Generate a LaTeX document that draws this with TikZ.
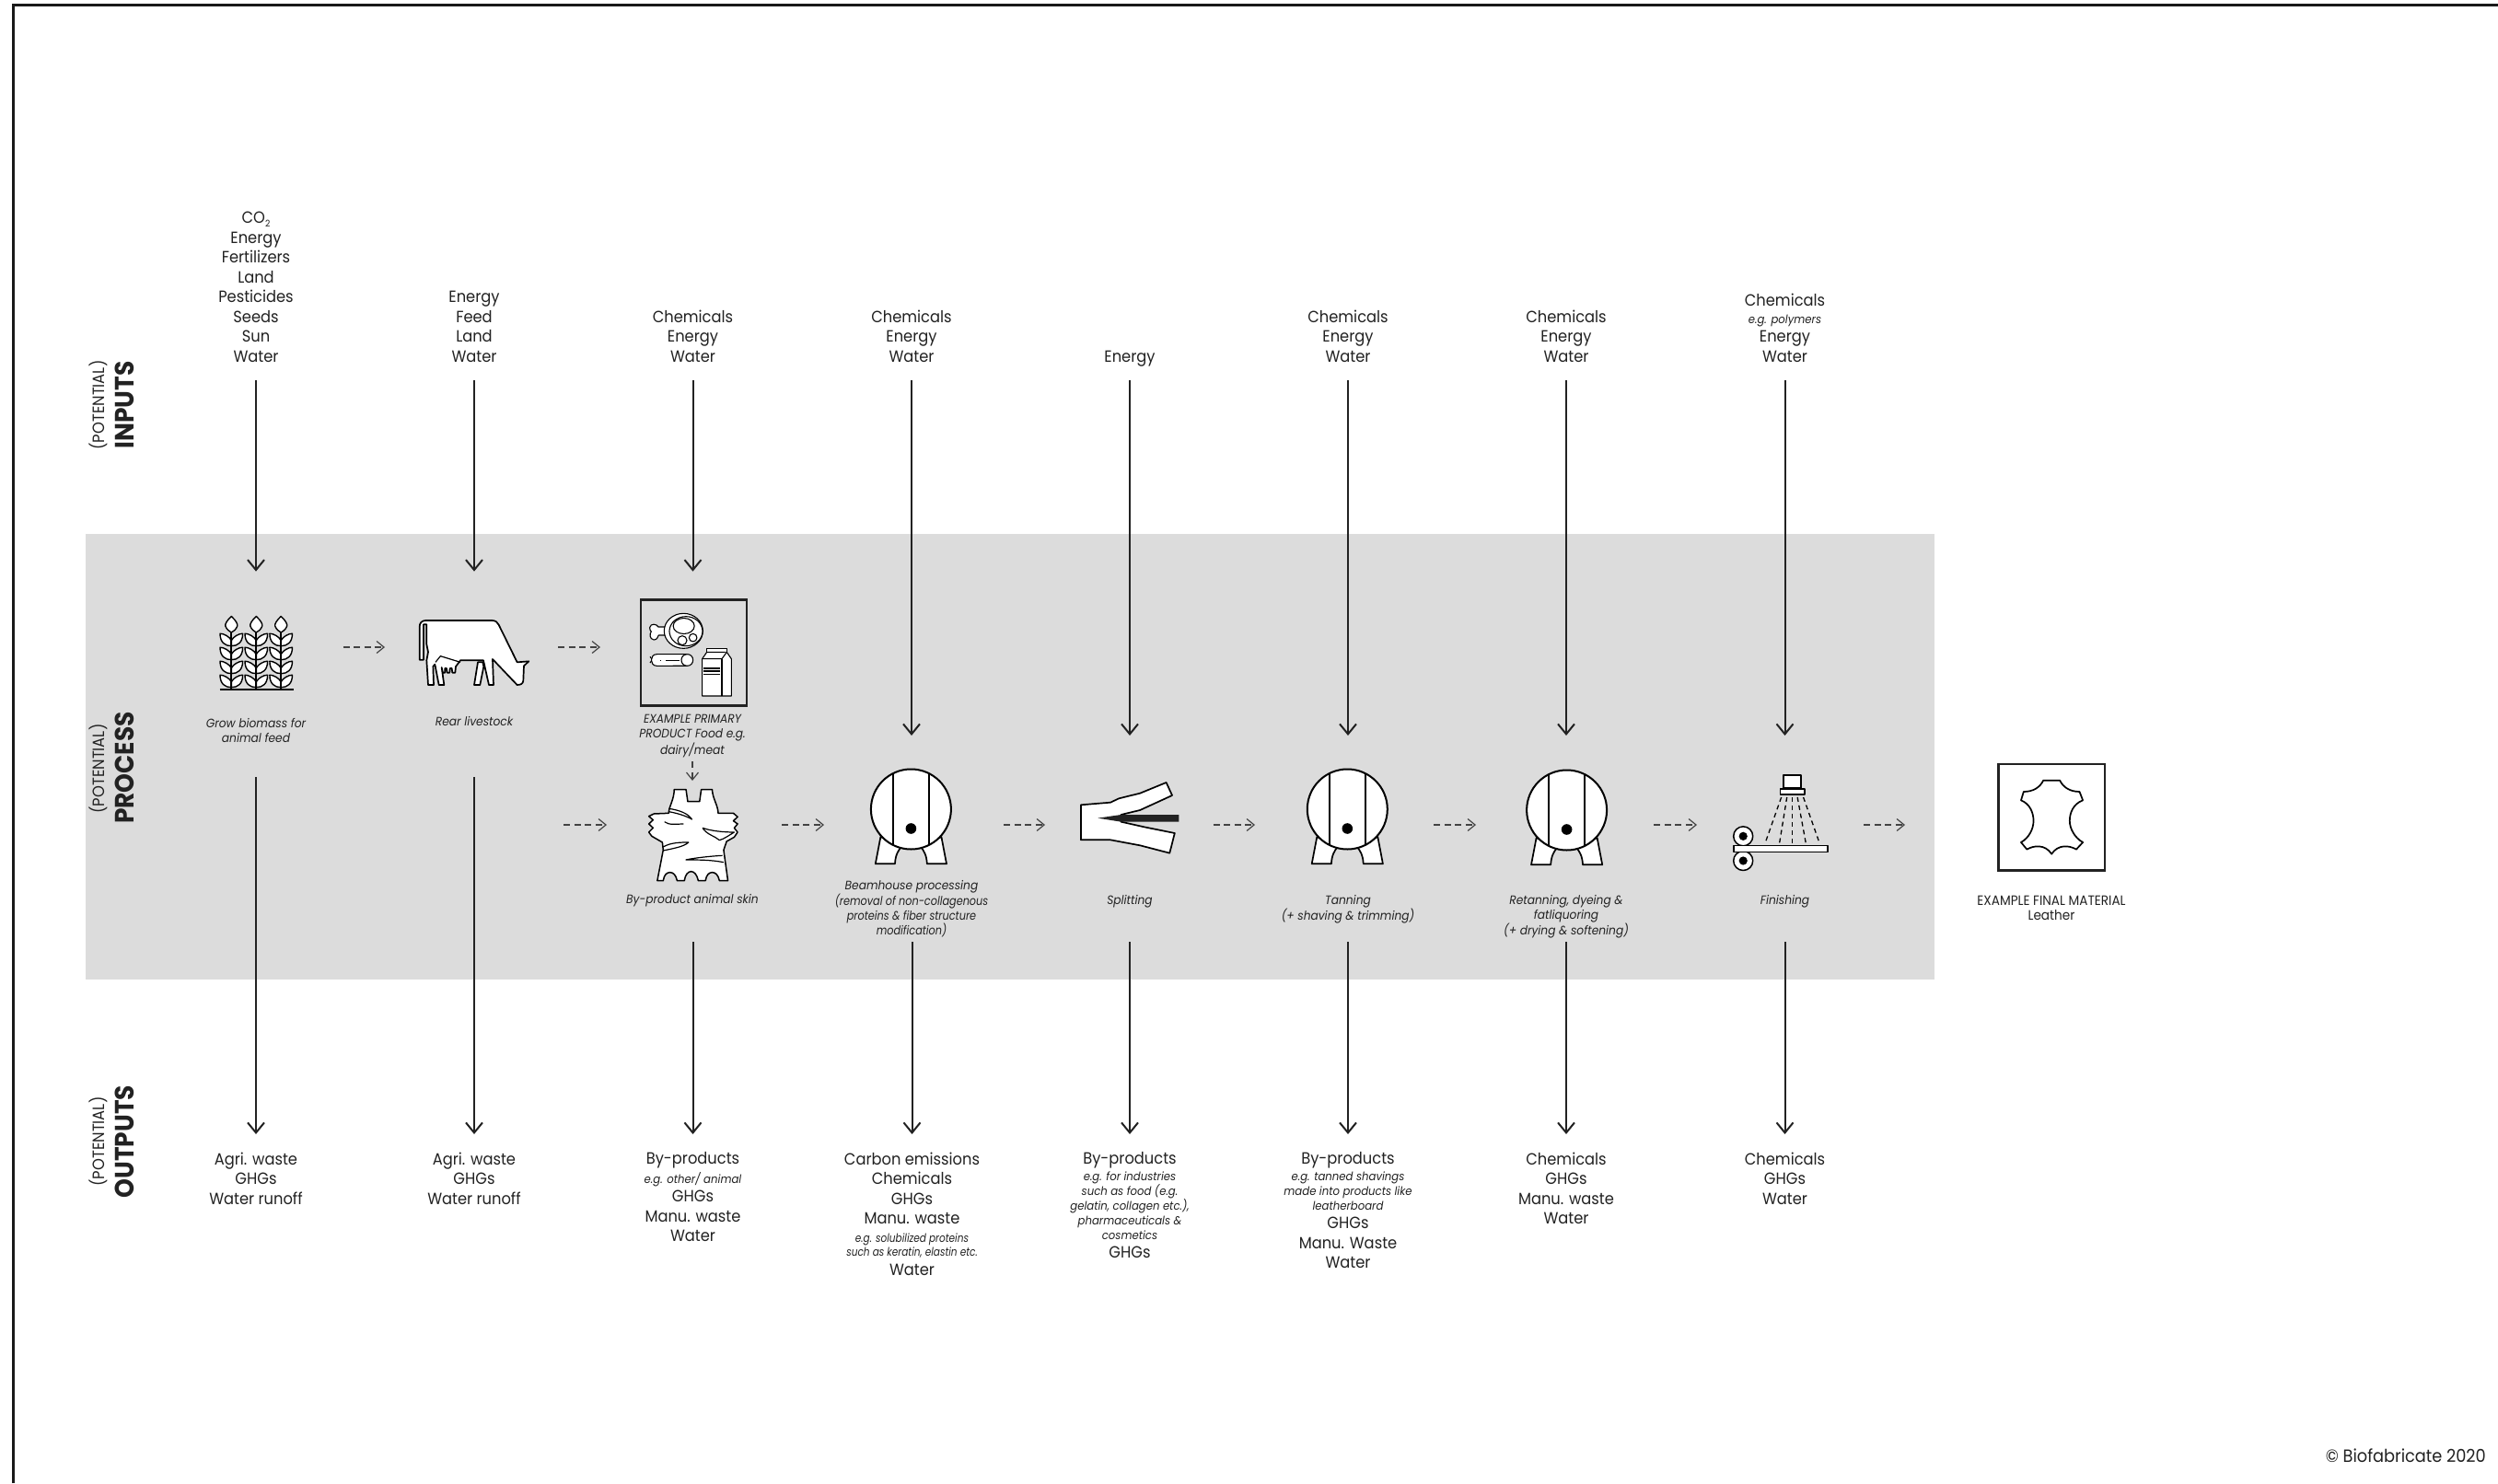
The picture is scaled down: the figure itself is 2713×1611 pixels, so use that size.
\documentclass[tikz,border=0pt]{standalone}
\usepackage{fontspec}
\setmainfont{Poppins}[FakeStretch=0.92]
\usetikzlibrary{arrows.meta}
\definecolor{ink}{HTML}{222222}
\definecolor{band}{HTML}{DCDCDC}
\newcommand\sm[1]{{\fontsize{12.7}{12.7}\selectfont\itshape #1}}
\newcommand\nar[2]{\scalebox{#1}[1]{#2}}
\tikzset{
  flow/.style={line width=2pt,draw=ink,-{Straight Barb[length=11pt,width=18pt,line width=2pt]}},
  dashflow/.style={line width=1.2pt,draw=ink!85,dash pattern=on 7pt off 4.5pt,-{Straight Barb[length=8pt,width=13pt,line width=1.2pt]}},
  inlabel/.style={anchor=south,align=center,inner xsep=0pt,inner ysep=14.5pt,text=ink,
    font=\fontsize{17.7}{21.5}\selectfont,execute at end node={\rule[-5pt]{0pt}{5pt}}},
  outlabel/.style={anchor=north,align=center,inner xsep=0pt,inner ysep=19.5pt,text=ink,
    font=\fontsize{17.7}{21.5}\selectfont,execute at begin node={\rule{0pt}{14pt}}},
  captext/.style={anchor=north,align=center,inner sep=0pt,text=ink,
    font=\fontsize{13.3}{16}\selectfont\itshape,execute at begin node={\rule{0pt}{10pt}}},
  finalcap/.style={captext,font=\fontsize{14.8}{16}\selectfont},
  stepbox/.style={inner sep=0pt,outer sep=0pt,draw=none},
  icon/.style={draw=black,line width=1.7pt,fill=white,line join=round},
  sidehead/.style={rotate=90,inner sep=0pt,text=ink,font=\fontsize{28.8}{29}\selectfont\bfseries},
  sidesub/.style={rotate=90,inner sep=0pt,text=ink,font=\fontsize{17.8}{18}\selectfont},
}
\newcommand\stalk[1]{%
  \begin{scope}[shift={(#1,0)}]
    \draw[icon,line width=1.4pt] (0,669.5) .. controls (-5,674) and (-7,678) .. (-6.5,680) .. controls (-5,684) and (-2,686) .. (0,687) .. controls (2,686) and (5,684) .. (6.5,680) .. controls (7,678) and (5,674) .. (0,669.5) -- cycle;
    \foreach \s in {-1,1}\foreach \k in {0,1,2,3}{
      \pgfmathsetmacro\yb{701.7+\k*15}
      \draw[icon,line width=1.4pt] (0,\yb) .. controls (\s*7,\yb) and (\s*12.3,\yb-4) .. (\s*12.3,\yb-13.5) .. controls (\s*8,\yb-13.5) and (\s*2,\yb-10) .. (0,\yb-6) -- cycle;
    }
    \draw[black,line width=1.7pt] (0,687) -- (0,749);
  \end{scope}}
\newcommand\drumicon[1]{%
  \begin{scope}[shift={#1}]
    \draw[icon] (-33,30) -- (-38.6,59.3) -- (-17.4,59.3) .. controls (-17,50) and (-14,45) .. (-10.6,41) -- cycle;
    \draw[icon] (33,30) -- (38.6,59.3) -- (17.4,59.3) .. controls (17,50) and (14,45) .. (10.6,41) -- cycle;
    \draw[icon,line width=2pt] (0,0) circle [radius=43.5pt];
    \draw[draw=black,line width=2pt] (-19.5,-38.9) -- (-19.5,38.9) (19.5,-38.9) -- (19.5,38.9);
    \fill[black] (0,21) circle [radius=5.8pt];
  \end{scope}}
\begin{document}
\begin{tikzpicture}[x=1pt,y=-1pt]
\useasboundingbox (0,0) rectangle (2713,1611);
\fill[white] (0,0) rectangle (2713,1611);
\fill[band] (93,580) rectangle (2101,1064);
\draw[black!90,line width=2.5pt] (14.5,1611) -- (14.5,5.5) -- (2713,5.5);

% invisible step frames, their sides carry the dashed connectors
\node[stepbox,minimum width=189pt,minimum height=40pt] (wheat) at (278,703) {};
\node[stepbox,minimum width=188pt,minimum height=40pt] (cow) at (512,703) {};
\node[stepbox,minimum width=200pt,minimum height=248pt] (primary) at (752,703) {};
\node[stepbox,minimum width=190pt,minimum height=96pt] (skin) at (754,896) {};
\node[stepbox,minimum width=195pt,minimum height=40pt] (drum1) at (992.5,896) {};
\node[stepbox,minimum width=182.5pt,minimum height=40pt] (split) at (1226.25,896) {};
\node[stepbox,minimum width=194pt,minimum height=40pt] (drum2) at (1460,896) {};
\node[stepbox,minimum width=193pt,minimum height=40pt] (drum3) at (1699.5,896) {};
\node[stepbox,minimum width=181pt,minimum height=40pt] (finish) at (1933.5,896) {};
\node[stepbox,minimum width=100pt,minimum height=40pt] (final) at (2119,896) {};
\coordinate (skinfeed) at (612,896);

\draw[dashflow] (wheat) -- (cow);
\draw[dashflow] (cow) -- (primary);
\draw[dashflow] (primary.south) -- (primary.south |- skin.north);
\draw[dashflow] (skinfeed) -- (skin);
\draw[dashflow] (skin) -- (drum1);
\draw[dashflow] (drum1) -- (split);
\draw[dashflow] (split) -- (drum2);
\draw[dashflow] (drum2) -- (drum3);
\draw[dashflow] (drum3) -- (finish);
\draw[dashflow] (finish) -- (final);

% inputs
\node[inlabel] (i1) at (278,413) {CO\raisebox{-3.5pt}{\fontsize{10}{10}\selectfont 2}\\Energy\\Fertilizers\\Land\\Pesticides\\Seeds\\Sun\\Water};
\node[inlabel] (i2) at (515,413) {Energy\\Feed\\Land\\Water};
\node[inlabel] (i3) at (752.5,413) {Chemicals\\Energy\\Water};
\node[inlabel] (i4) at (990,413) {Chemicals\\Energy\\Water};
\node[inlabel] (i5) at (1227,413) {Energy};
\node[inlabel] (i6) at (1464,413) {Chemicals\\Energy\\Water};
\node[inlabel] (i7) at (1701,413) {Chemicals\\Energy\\Water};
\node[inlabel] (i8) at (1938.5,413) {Chemicals\\[-2.5pt]\sm{e.g. polymers}\\[-1.5pt]Energy\\Water};
\coordinate (ie1) at (278,620.7);
\coordinate (ie2) at (515,620.7);
\coordinate (ie3) at (752.5,620.7);
\coordinate (ie4) at (990,799);
\coordinate (ie5) at (1227,799);
\coordinate (ie6) at (1464,799);
\coordinate (ie7) at (1701,799);
\coordinate (ie8) at (1938.5,799);
\foreach \n in {1,...,8}{\draw[flow] (i\n.south) -- (ie\n);}

% outputs
\node[outlabel] (o1) at (278,1232) {Agri. waste\\GHGs\\Water runoff};
\node[outlabel] (o2) at (515,1232) {Agri. waste\\GHGs\\Water runoff};
\node[outlabel] (o3) at (752.5,1232) {By-products\\[-1pt]\sm{e.g. other/ animal}\\[-1pt]GHGs\\Manu. waste\\Water};
\node[outlabel] (o4) at (990.5,1232) {Carbon emissions\\Chemicals\\GHGs\\Manu. waste\\[-2pt]\nar{.9}{\sm{e.g. solubilized proteins}}\\[-6pt]\nar{.9}{\sm{such as keratin, elastin etc.}}\\[-1pt]Water};
\node[outlabel] (o5) at (1227,1232) {By-products\\[-3.5pt]\sm{e.g. for industries}\\[-5.5pt]\sm{such as food (e.g.}\\[-5.5pt]\sm{gelatin, collagen etc.),}\\[-5.5pt]\sm{pharmaceuticals \&}\\[-5.5pt]\sm{cosmetics}\\[-2pt]GHGs};
\node[outlabel] (o6) at (1464,1232) {By-products\\[-3.5pt]\sm{e.g. tanned shavings}\\[-5.5pt]\sm{made into products like}\\[-5.5pt]\sm{leatherboard}\\[-1.5pt]GHGs\\Manu. Waste\\Water};
\node[outlabel] (o7) at (1701,1232) {Chemicals\\GHGs\\Manu. waste\\Water};
\node[outlabel] (o8) at (1938.5,1232) {Chemicals\\GHGs\\Water};
\coordinate (os1) at (278,844);
\coordinate (os2) at (515,844);
\coordinate (os3) at (752.5,1023);
\coordinate (os4) at (990.5,1023);
\coordinate (os5) at (1227,1023);
\coordinate (os6) at (1464,1023);
\coordinate (os7) at (1701,1023);
\coordinate (os8) at (1938.5,1023);
\foreach \n in {1,...,8}{\draw[flow] (os\n) -- (o\n.north);}

% wheat
\stalk{251.3}\stalk{278.3}\stalk{305.2}
\draw[black,line width=2.4pt] (238.7,749) -- (318.7,749);

% cow
\begin{scope}[shift={(445,660)},x=.3333pt,y=-.3333pt]
\draw[icon] (32,170) -- (32,62) .. controls (32,50) and (40,42) .. (52,42) -- (268,42) .. controls (280,42) and (286,48) .. (290,56) -- (350,178) -- (388,175) -- (372,190) -- (370,238) .. controls (369,248) and (362,252) .. (350,252) -- (270,168) -- (273,252) -- (258,252) -- (240,172) -- (165,172) -- (150,192) -- (148,212) -- (139,212) -- (137,198) -- (131,198) -- (130,212) -- (122,212) -- (120,198) -- (115,198) -- (115,212) -- (108,212) -- (104,195) -- (112,252) -- (95,252) -- (82,185) -- (76,192) -- (78,252) -- (60,252) -- (55,172) -- (60,145) -- (55,120) -- (55,55) -- (45,55) -- (45,170) -- cycle;
\draw[icon,fill=none,line width=1.2pt] (84,178) -- (100,158) -- (165,178);
\draw[icon] (222,178) -- (238,178) -- (241,192) -- (229,252) -- (210,252) -- cycle;
\end{scope}

% primary product
\begin{scope}[shift={(690,645)},x=.3333pt,y=-.3333pt]
\draw[draw=ink,line width=2.6pt] (18,20) rectangle (363,365);
\begin{scope}[every path/.style={icon,line width=1.1pt}]
\path (97,108) -- (75,108) .. controls (70,98) and (50,95) .. (47,110) .. controls (46,118) and (50,121) .. (52,123) .. controls (46,130) and (46,148) .. (60,150) .. controls (70,150) and (74,142) .. (76,135) -- (100,135) -- cycle;
\path (157,121) ellipse [x radius=21pt,y radius=19pt];
\path (165,122) ellipse [x radius=18pt,y radius=16pt];
\path (158,105) ellipse [x radius=11.5pt,y radius=8.5pt];
\path (153,152) ellipse [x radius=5pt,y radius=5pt];
\path (188,143) ellipse [x radius=4.3pt,y radius=4.3pt];
\path (48,205) -- (55,215) -- (48,225);
\path (70,197) -- (170,197) arc [start angle=90,end angle=-90,x radius=6pt,y radius=6.3pt] -- (70,235) .. controls (58,235) and (52,225) .. (52,216) .. controls (52,207) and (58,197) .. (70,197) -- cycle;
\path (170,197) .. controls (158,197) and (150,205) .. (150,216) .. controls (150,227) and (158,235) .. (170,235);
\path (100,218) -- (145,218);
\path (80,218) -- (84,218);
\path (233,178) rectangle (298,190);
\path (233,190) -- (218,212) -- (218,333) -- (313,333) -- (313,212) -- (298,190) -- cycle;
\path (218,212) -- (282,212) -- (298,190);
\path (282,212) -- (282,333);
\path (222,243) -- (276,243) (222,252) -- (276,252) (222,262) -- (276,262);
\end{scope}
\end{scope}

% skin
\begin{scope}[shift={(600,780)},x=.4591pt,y=-.3333pt]
\draw[icon,line width=1.5pt] (288,233) -- (316,233) -- (320,272) -- (348,272) -- (352,233) -- (378,233) .. controls (378,260) and (392,285) .. (392,310) -- (428,310) -- (438,322) -- (428,335) -- (438,345) -- (430,358) -- (438,372) -- (430,388) -- (412,402) -- (405,430) -- (415,530) -- (395,530) .. controls (392,510) and (385,503) .. (378,503) .. controls (371,503) and (364,510) .. (362,530) -- (345,530) .. controls (342,510) and (335,500) .. (328,500) .. controls (321,500) and (314,510) .. (312,530) -- (295,530) .. controls (292,510) and (285,503) .. (278,503) .. controls (271,503) and (264,510) .. (262,530) -- (248,530) -- (262,430) -- (260,405) -- (235,385) -- (228,372) -- (238,358) -- (228,345) -- (238,332) -- (228,320) -- (240,312) -- (275,310) .. controls (275,290) and (288,265) .. (288,233) -- cycle;
\begin{scope}[every path/.style={draw=black,line width=1.2pt,line join=round}]
\path (275,295) .. controls (300,300) and (320,310) .. (330,330) .. controls (315,318) and (295,310) .. (275,305);
\path (265,338) .. controls (275,350) and (295,345) .. (310,345);
\path (355,358) .. controls (375,368) and (405,372) .. (430,372) .. controls (420,380) and (405,395) .. (395,398) .. controls (385,385) and (365,380) .. (355,358);
\path (262,420) .. controls (280,405) and (305,405) .. (322,405) .. controls (310,420) and (285,425) .. (262,432);
\path (315,462) .. controls (340,455) and (375,450) .. (402,448) (405,470) .. controls (375,462) and (345,462) .. (315,462);
\end{scope}
\end{scope}

% drums
\drumicon{(989.4,879)}
\drumicon{(1463.3,879)}
\drumicon{(1701.6,880)}

% splitting
\begin{scope}[shift={(600,780)},x=.4591pt,y=-.3333pt]
\draw[icon] (1250,283) -- (1320,275) -- (1340,262) -- (1390,245) -- (1452,210) -- (1466,252) -- (1390,300) -- (1345,315) -- (1345,338) -- (1400,355) -- (1472,375) -- (1460,440) -- (1390,415) -- (1320,397) -- (1250,397) -- cycle;
\fill[ink] (1290,326) -- (1345,315) -- (1482,315) -- (1482,338) -- (1345,338) -- cycle;
\end{scope}

% finishing
\begin{scope}[shift={(1780,780)},x=.3571pt,y=-.3333pt]
\draw[icon] (440,185) rectangle (493,228);
\draw[icon] (430,230) rectangle (503,250);
\foreach \a/\b in {433/383,450/427,467/467,482/508,500/550}{
  \draw[black,line width=1.3pt,dash pattern=on 5pt off 4pt] (\a,258) -- (\b,410);}
\draw[icon,line width=1.5pt] (317,385) circle [radius=10.5pt];
\draw[icon,line width=1.5pt] (317,465) circle [radius=10.5pt];
\fill[black] (317,385) circle [radius=4.6pt];
\fill[black] (317,465) circle [radius=4.6pt];
\draw[icon,line width=1.5pt] (288,416) rectangle (574,436);
\end{scope}

% final material
\begin{scope}[shift={(1780,780)},x=.3571pt,y=-.3333pt]
\draw[draw=ink,line width=2.4pt] (1093,150) rectangle (1417,497);
\draw[icon,line width=1.7pt] (1230,203) -- (1280,203) .. controls (1290,225) and (1310,240) .. (1340,240) -- (1350,268) .. controls (1320,280) and (1310,310) .. (1310,335) .. controls (1310,360) and (1325,390) .. (1350,405) -- (1330,428) .. controls (1310,415) and (1275,410) .. (1255,443) .. controls (1235,410) and (1200,415) .. (1180,428) -- (1162,405) .. controls (1187,390) and (1200,360) .. (1200,335) .. controls (1200,310) and (1190,280) .. (1162,268) -- (1170,240) .. controls (1200,240) and (1220,225) .. (1230,203) -- cycle;
\end{scope}

% captions
\node[captext] (c1) at (278,780.5) {Grow biomass for\\animal feed};
\node[captext] (c2) at (515,778.5) {Rear livestock};
\node[captext] (c3) at (752,776.5) {EXAMPLE PRIMARY\\PRODUCT Food e.g.\\dairy/meat};
\node[captext] (c4) at (752,971.5) {By-product animal skin};
\node[captext] (c5) at (990,956.5) {Beamhouse processing\\\nar{.92}{(removal of non-collagenous}\\\nar{.92}{proteins \& fiber structure}\\\nar{.92}{modification)}};
\node[captext] (c6) at (1227,972.5) {Splitting};
\node[captext] (c7) at (1464,972.5) {Tanning\\(+ shaving \& trimming)};
\node[captext] (c8) at (1701,972.5) {Retanning, dyeing \&\\fatliquoring\\(+ drying \& softening)};
\node[captext] (c9) at (1938.5,972.5) {Finishing};
\node[finalcap] (c10) at (2228,972.5) {EXAMPLE FINAL MATERIAL\\Leather};

% side titles
\node[sidesub] (s1) at (107,440) {(POTENTIAL)};
\node[sidehead] (s2) at (135,440) {INPUTS};
\node[sidesub] (s3) at (107,835) {(POTENTIAL)};
\node[sidehead] (s4) at (135,834) {PROCESS};
\node[sidesub] (s5) at (107,1240) {(POTENTIAL)};
\node[sidehead] (s6) at (135,1240) {OUTPUTS};

\node[anchor=east,inner sep=0pt,text=ink,font=\fontsize{19.3}{20}\selectfont] (copy) at (2700,1581) {© Biofabricate 2020};
\end{tikzpicture}
\end{document}
